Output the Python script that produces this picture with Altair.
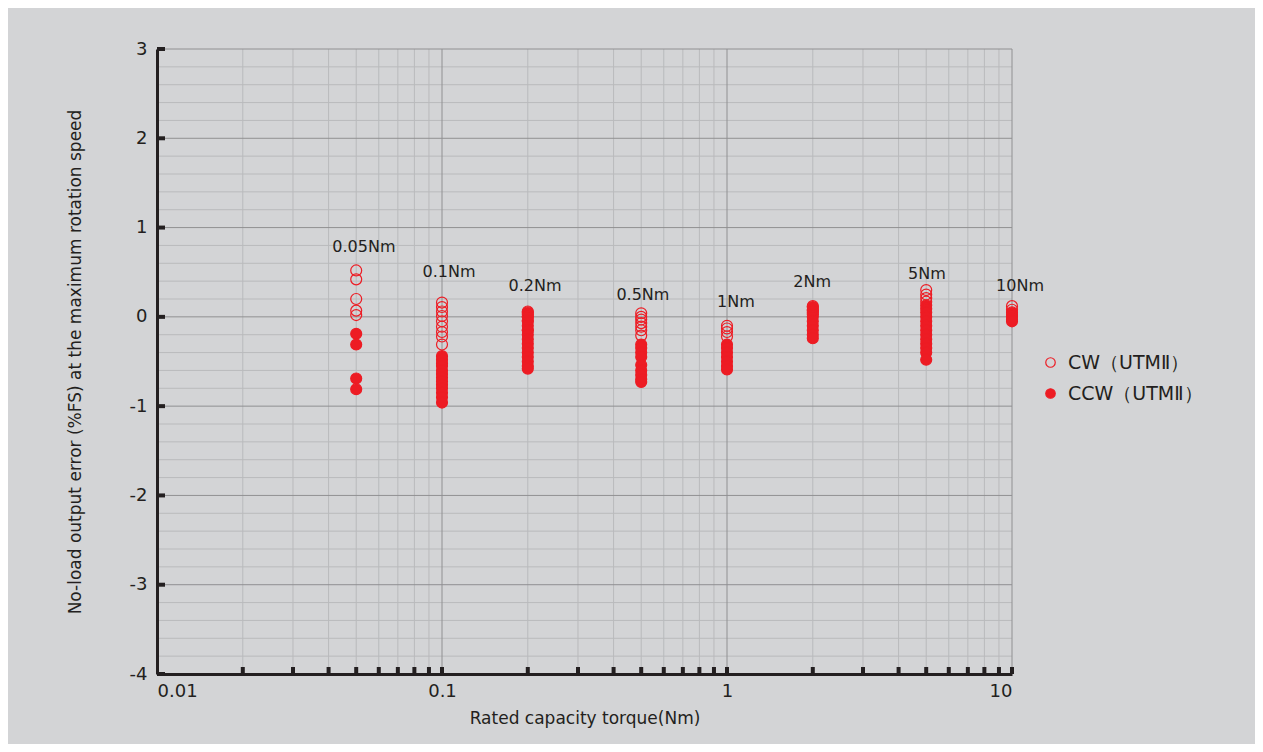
import altair as alt
import pandas as pd

# ---- data ----
torques = [0.05, 0.1, 0.2, 0.5, 1, 2, 5, 10]
torque_labels = ["0.05Nm", "0.1Nm", "0.2Nm", "0.5Nm", "1Nm", "2Nm", "5Nm", "10Nm"]
label_x = [0.0532, 0.1058, 0.212, 0.507, 1.075, 1.99, 5.03, 10.67]
label_y = [0.78, 0.50, 0.35, 0.24, 0.17, 0.39, 0.48, 0.35]

cw_values = [
    [0.52, 0.42, 0.20, 0.07, 0.02],
    [0.16, 0.11, 0.06, 0.01, -0.05, -0.11, -0.17, -0.22, -0.31],
    [0.06, 0.03, 0.0, -0.04, -0.15],
    [0.04, 0.0, -0.03, -0.07, -0.11, -0.15, -0.21],
    [-0.1, -0.13, -0.17, -0.22],
    [0.12, 0.08, 0.05],
    [0.30, 0.25, 0.21, 0.17],
    [0.12, 0.08],
]
ccw_values = [
    [-0.19, -0.31, -0.69, -0.81],
    [-0.44, -0.48, -0.52, -0.55, -0.6, -0.64, -0.68, -0.72, -0.76, -0.8, -0.85, -0.9, -0.96],
    [0.05, 0.0, -0.05, -0.1, -0.15, -0.2, -0.25, -0.3, -0.35, -0.4, -0.45, -0.5, -0.55, -0.58],
    [-0.31, -0.35, -0.4, -0.45, -0.54, -0.6, -0.65, -0.7, -0.73],
    [-0.31, -0.35, -0.4, -0.45, -0.5, -0.55, -0.59],
    [0.11, 0.07, 0.03, 0.0, -0.05, -0.1, -0.15, -0.2, -0.24],
    [0.13, 0.09, 0.05, 0.0, -0.05, -0.1, -0.15, -0.2, -0.25, -0.3, -0.35, -0.4, -0.48],
    [0.05, 0.02, 0.0, -0.03, -0.05],
]

x_major = [0.01, 0.1, 1, 10]
x_minor = [0.02, 0.03, 0.04, 0.05, 0.06, 0.07, 0.08, 0.09,
           0.2, 0.3, 0.4, 0.5, 0.6, 0.7, 0.8, 0.9,
           2, 3, 4, 5, 6, 7, 8, 9]
y_major = [-4, -3, -2, -1, 0, 1, 2, 3]
y_minor = [round(-4 + 0.2 * i, 1) for i in range(36) if i % 5 != 0]

CW = "CW（UTMⅡ）"
CCW = "CCW（UTMⅡ）"

rows = []
for t, vals in zip(torques, ccw_values):
    for v in vals:
        rows.append({"torque": t, "err": v, "series": CCW})
for t, vals in zip(torques, cw_values):
    for v in vals:
        rows.append({"torque": t, "err": v, "series": CW})
df = pd.DataFrame(rows)

labels_df = pd.DataFrame({"torque": label_x, "err": label_y, "text": torque_labels})
xminor_df = pd.DataFrame({"torque": x_minor})
xmajor_df = pd.DataFrame({"torque": x_major[1:]})
yminor_df = pd.DataFrame({"err": y_minor})
ymajor_df = pd.DataFrame({"err": y_major[1:]})
xt_df = pd.DataFrame({"torque": x_minor + x_major[1:]})
yt_df = pd.DataFrame({"err": y_major})

RED = "#ed1c24"
DARK = "#231f20"
MINOR = "#b9babc"
MAJOR = "#909092"
FONT = "DejaVu Sans"
W, H = 855, 625

xscale = alt.Scale(type="log", domain=[0.01, 10], nice=False)
yscale = alt.Scale(domain=[-4, 3], nice=False, zero=False)

xaxis = alt.Axis(
    values=x_major, grid=False, ticks=False, labelOverlap=False, zindex=1,
    labelExpr="'' + datum.value",
    labelFont=FONT, labelFontSize=18, labelColor=DARK, labelPadding=8,
    domainColor=DARK, domainWidth=3,
    title="Rated capacity torque(Nm)", titleFont=FONT, titleFontSize=17,
    titleFontWeight="normal", titleColor=DARK, titlePadding=10,
)
yaxis = alt.Axis(
    values=y_major, grid=False, ticks=False, labelOverlap=False, zindex=1,
    labelExpr="'' + datum.value",
    labelFont=FONT, labelFontSize=18, labelColor=DARK, labelPadding=10,
    domainColor=DARK, domainWidth=3,
    title="No-load output error (%FS) at the maximum rotation speed",
    titleFont=FONT, titleFontSize=17, titleFontWeight="normal", titleColor=DARK,
    titlePadding=45,
)

def X():
    return alt.X("torque:Q", scale=xscale, axis=xaxis)

def Y():
    return alt.Y("err:Q", scale=yscale, axis=yaxis)

# grid lines
xgrid_minor = alt.Chart(xminor_df).mark_rule(color=MINOR, strokeWidth=1).encode(x=X())
xgrid_major = alt.Chart(xmajor_df).mark_rule(color=MAJOR, strokeWidth=1).encode(x=X())
ygrid_minor = alt.Chart(yminor_df).mark_rule(color=MINOR, strokeWidth=1).encode(y=Y())
ygrid_major = alt.Chart(ymajor_df).mark_rule(color=MAJOR, strokeWidth=1).encode(y=Y())

points = alt.Chart(df).mark_point(
    shape="circle", stroke=RED, strokeWidth=1.2, opacity=1, size=120
).encode(
    x=X(),
    y=Y(),
    fill=alt.Fill(
        "series:N",
        scale=alt.Scale(domain=[CW, CCW], range=["rgba(0,0,0,0)", RED]),
        legend=alt.Legend(
            orient="none", legendX=884, legendY=304, title=None,
            labelFont=FONT, labelFontSize=19, labelColor=DARK,
            symbolType="circle", symbolSize=90, symbolStrokeColor=RED,
            symbolStrokeWidth=1.2, symbolOpacity=1, rowPadding=11,
            labelOffset=8, padding=0,
        ),
    ),
)

labels = alt.Chart(labels_df).mark_text(
    font=FONT, fontSize=16, color=DARK, baseline="middle", align="center"
).encode(x=X(), y=Y(), text="text:N")

xticks = alt.Chart(xt_df).mark_rule(color=DARK, strokeWidth=4).encode(
    x=X(), y=alt.value(H), y2=alt.value(H - 7),
)
yticks = alt.Chart(yt_df).mark_rule(color=DARK, strokeWidth=4).encode(
    y=Y(), x=alt.value(0), x2=alt.value(8),
)

chart = alt.layer(
    xgrid_minor, ygrid_minor, xgrid_major, ygrid_major,
    points, xticks, yticks, labels
).properties(
    width=W, height=H,
    autosize=alt.AutoSizeParams(type="none"),
    padding={"left": 149, "top": 41, "right": 243, "bottom": 70},
    background="#d3d4d6",
).configure_view(stroke=None)

chart.save("out.html", embed_options={"renderer": "svg", "actions": False})
